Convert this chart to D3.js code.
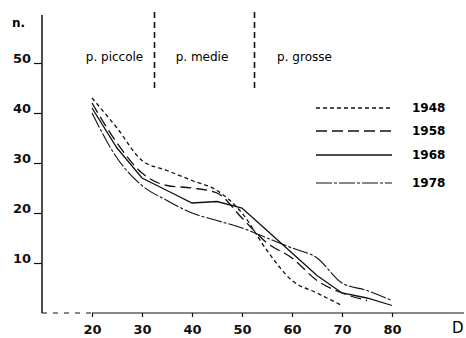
<!DOCTYPE html>
<html>
<head>
<meta charset="utf-8">
<script src="https://cdn.jsdelivr.net/npm/d3@7"></script>
<style>
  body{margin:0;background:#fff;}
  svg{display:block;}
  .tick text{font-family:"DejaVu Sans",sans-serif;font-weight:bold;fill:#111;}
</style>
</head>
<body>
<svg id="chart" width="466" height="338"></svg>
<script>
// diametri (D) e numero di piante per classe
var diam=[20,25,30,35,40,45,50,55,60,65,70,75,80];
var n1948=[43,37,30.5,28.5,26.5,24.5,20,12.5,6.5,4,1.5];
var n1958=[42,34,28,25.5,25,24,19,14,11,6.5,4,2.5];
var n1968=[41,33,27,24.5,22,22.3,21,16.5,12,7.5,4,3,1.5];
var n1978=[40,31,25.5,22.5,20,18.5,17,15,13,11,6,4.5,2.5];
var years=["1948","1958","1968","1978"];
var yTicks=[10,20,30,40,50];
var xTicks=[20,30,40,50,60,70,80];
var limits=[32.5,52.5];
var classes=["p. piccole","p. medie","p. grosse"];
var classPos=[24.5,42,62.5];

var svg=d3.select("#chart");
var x=d3.scaleLinear().domain([10,80]).range([42,392]);
var y=d3.scaleLinear().domain([0,50]).range([313,63]);

var series=[n1948,n1958,n1968,n1978];
var dashes=["4,3","11,5","none","16,2,3,2"];
var widths=[1.3,1.3,1.3,1.1];
var curves=[d3.curveMonotoneX,d3.curveMonotoneX,d3.curveLinear,d3.curveMonotoneX];

// y axis
var gy=svg.append("g").attr("transform","translate("+x(10)+",0)")
    .call(d3.axisLeft(y).tickValues(yTicks).tickSize(8).tickPadding(3));
gy.select(".domain").remove();
gy.selectAll(".tick line").attr("stroke","#111").attr("stroke-width",1.2);
gy.selectAll(".tick text").attr("font-size","13px").attr("dy","-0.05em");
svg.append("line").attr("x1",x(10)).attr("x2",x(10)).attr("y1",15).attr("y2",y(0))
    .attr("stroke","#111").attr("stroke-width",1.5);
svg.append("text").attr("x",12).attr("y",27).attr("font-family","DejaVu Sans")
    .attr("font-weight","bold").attr("font-size","12px").text("n.");

// x axis
var gx=svg.append("g").attr("transform","translate(0,"+y(0)+")")
    .call(d3.axisBottom(x).tickValues(xTicks).tickSize(4).tickPadding(8));
gx.select(".domain").remove();
gx.selectAll(".tick line").attr("stroke","#111").attr("stroke-width",1.2);
gx.selectAll(".tick text").attr("font-size","13px");
svg.append("line").attr("x1",x(10)).attr("x2",x(20)).attr("y1",y(0)).attr("y2",y(0))
    .attr("stroke","#111").attr("stroke-width",1.2).attr("stroke-dasharray","5,6");
svg.append("line").attr("x1",x(20)).attr("x2",464).attr("y1",y(0)).attr("y2",y(0))
    .attr("stroke","#111").attr("stroke-width",1.2);
svg.append("text").attr("x",452).attr("y",333).attr("font-family","DejaVu Sans")
    .attr("font-size","15px").text("D");

// class limits
svg.selectAll(".limit").data(limits).enter().append("line")
    .attr("class","limit")
    .attr("x1",function(d){return x(d);}).attr("x2",function(d){return x(d);})
    .attr("y1",12).attr("y2",92)
    .attr("stroke","#111").attr("stroke-width",1.6).attr("stroke-dasharray","6,4");
svg.selectAll(".cls").data(classes).enter().append("text")
    .attr("class","cls")
    .attr("x",function(d,i){return x(classPos[i]);}).attr("y",61)
    .attr("text-anchor","middle").attr("font-family","DejaVu Sans")
    .attr("font-size","12px").text(function(d){return d;});

// lines
svg.selectAll(".serie").data(series).enter().append("path")
    .attr("class","serie")
    .attr("d",function(d,i){
        return d3.line().curve(curves[i])
            .x(function(v,j){return x(diam[j]);})
            .y(function(v){return y(v);})(d);
    })
    .attr("fill","none").attr("stroke","#111")
    .attr("stroke-width",function(d,i){return widths[i];})
    .attr("stroke-dasharray",function(d,i){return dashes[i];});

// legend
var legY=[108,131,155,183];
var leg=svg.selectAll(".leg").data(years).enter().append("g").attr("class","leg")
    .attr("transform",function(d,i){return "translate(0,"+legY[i]+")";});
leg.append("line").attr("x1",316).attr("x2",392).attr("y1",0).attr("y2",0)
    .attr("stroke","#111")
    .attr("stroke-width",function(d,i){return widths[i];})
    .attr("stroke-dasharray",function(d,i){return dashes[i];});
leg.append("text").attr("x",412).attr("y",4).attr("font-family","DejaVu Sans")
    .attr("font-weight","bold").attr("font-size","12px").text(function(d){return d;});
</script>
</body>
</html>
